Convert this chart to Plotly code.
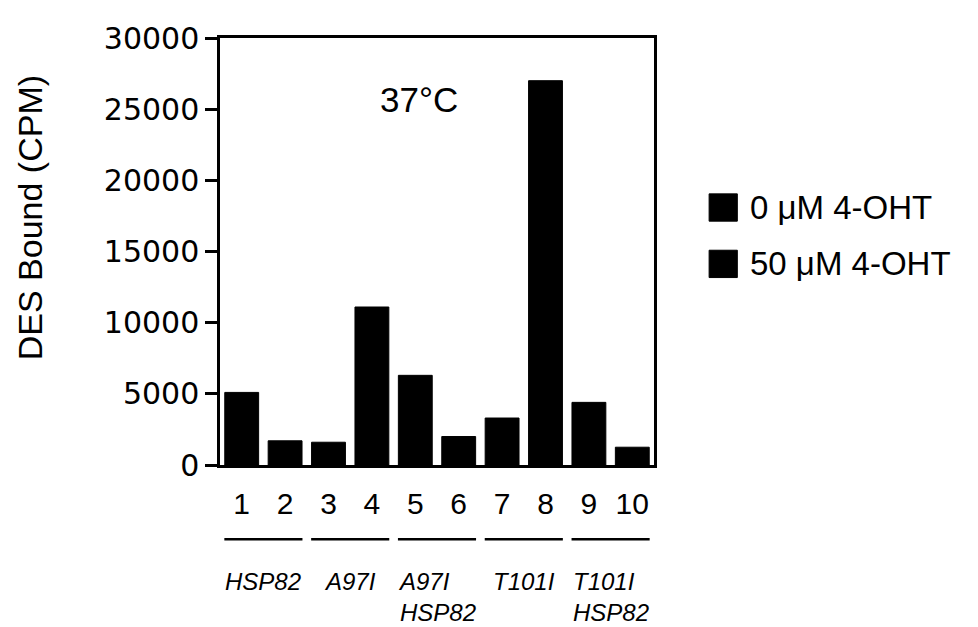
import plotly.graph_objects as go

lanes = ["1", "2", "3", "4", "5", "6", "7", "8", "9", "10"]
lanes_0uM = ["1", "3", "5", "7", "9"]
values_0uM = [5100, 1600, 6300, 3300, 4400]
lanes_50uM = ["2", "4", "6", "8", "10"]
values_50uM = [1700, 11100, 2000, 27000, 1250]
series_names = ["0 μM 4-OHT", "50 μM 4-OHT"]
series_colors = ["black", "black"]
group_labels = ["<i>HSP82</i>", "<i>A97I</i>", "<i>A97I<br>HSP82</i>", "<i>T101I</i>", "<i>T101I<br>HSP82</i>"]
group_first_lane = [0, 2, 4, 6, 8]
group_last_lane = [1, 3, 5, 7, 9]
y_ticks = [0, 5000, 10000, 15000, 20000, 25000, 30000]
y_tick_labels = ["0", "5000", "10000", "15000", "20000", "25000", "30000"]
y_title = "DES Bound (CPM)"
temperature_label = "37°C"

FONT = "Liberation Sans, Arial, Helvetica, sans-serif"
WIDE = "DejaVu Sans, Verdana, sans-serif"

fig = go.Figure()
fig.add_trace(go.Bar(x=lanes_0uM, y=values_0uM, name=series_names[0], showlegend=False,
                     marker=dict(color=series_colors[0], line=dict(color="black", width=1)), width=0.78))
fig.add_trace(go.Bar(x=lanes_50uM, y=values_50uM, name=series_names[1], showlegend=False,
                     marker=dict(color=series_colors[1], line=dict(color="black", width=1)), width=0.78))

# group underlines and labels
for lab, a, b in zip(group_labels, group_first_lane, group_last_lane):
    fig.add_shape(type="line", xref="x", yref="paper", x0=a - 0.4, x1=b + 0.4,
                  y0=-0.174, y1=-0.174, line=dict(color="black", width=2.5))
    fig.add_annotation(xref="x", yref="paper", x=(a + b) / 2, y=-0.236, text=lab,
                       showarrow=False, xanchor="center", yanchor="top", align="left",
                       font=dict(family=FONT, size=24, color="black"))

# legend (large square swatches)
legend_rows = [0.603, 0.471]
for name, col, yc in zip(series_names, series_colors, legend_rows):
    fig.add_shape(type="rect", xref="paper", yref="paper", x0=1.127, x1=1.192,
                  y0=yc - 0.032, y1=yc + 0.032, fillcolor=col, line=dict(color="black", width=1))
    fig.add_annotation(xref="paper", yref="paper", x=1.216, y=yc, text=name, showarrow=False,
                       xanchor="left", yanchor="middle",
                       font=dict(family=FONT, size=33, color="black"))

fig.add_annotation(xref="paper", yref="paper", x=0.459, y=0.856, text=temperature_label,
                   showarrow=False, xanchor="center", yanchor="middle",
                   font=dict(family=FONT, size=35, color="black"))

# y axis title
fig.add_annotation(xref="paper", yref="paper", x=-0.438, y=0.58, text=y_title,
                   showarrow=False, textangle=-90, xanchor="center", yanchor="middle",
                   font=dict(family=FONT, size=34, color="black"))

fig.update_layout(
    width=970, height=619,
    margin=dict(l=212, r=324, t=26, b=162),
    paper_bgcolor="white", plot_bgcolor="white",
    barmode="overlay", showlegend=False,
    font=dict(family=FONT, color="black"),
    xaxis=dict(type="category", categoryorder="array", categoryarray=lanes,
               range=[-0.5, 9.5], showline=True, linecolor="black", linewidth=2.5, mirror=True,
               ticks="", tickfont=dict(family=FONT, size=30, color="black"),
               ticklabelstandoff=10, showgrid=False, zeroline=False),
    yaxis=dict(range=[0, 30000], tickvals=y_ticks, ticktext=y_tick_labels, showline=True,
               linecolor="black", linewidth=2.5, mirror=True, ticks="outside", ticklen=12,
               tickwidth=2.5, tickcolor="black", tickfont=dict(family=WIDE, size=30, color="black"),
               showgrid=False, zeroline=False),
)

fig.write_html("out.html")
